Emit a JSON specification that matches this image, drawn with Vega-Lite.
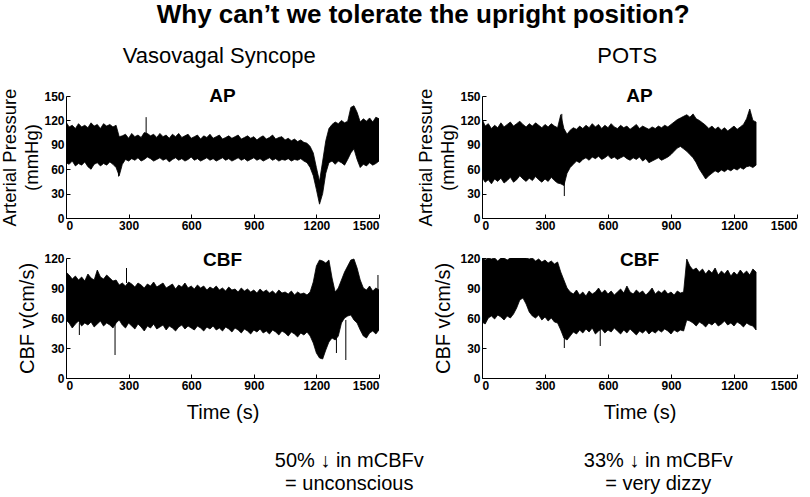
{
  "$schema": "https://vega.github.io/schema/vega-lite/v6.json",
  "padding": {"left": 0, "right": 5, "top": 2, "bottom": 0},
  "background": "white",
  "title": {"text": "Why can’t we tolerate the upright position?", "font": "Liberation Sans", "fontSize": 26, "fontWeight": "bold", "color": "black", "anchor": "middle", "dx": 24, "offset": 17},
  "datasets": {
    "vvsAP": [
      {"t":0,"lo":68,"hi":118},{"t":15,"lo":66,"hi":112},{"t":30,"lo":70,"hi":114},{"t":45,"lo":64,"hi":110},{"t":60,"lo":67,"hi":116},{"t":75,"lo":65,"hi":112},{"t":90,"lo":69,"hi":114},{"t":105,"lo":63,"hi":111},{"t":120,"lo":60,"hi":117},{"t":135,"lo":66,"hi":113},{"t":150,"lo":68,"hi":115},{"t":165,"lo":64,"hi":110},{"t":180,"lo":67,"hi":116},{"t":195,"lo":65,"hi":113},{"t":210,"lo":69,"hi":115},{"t":225,"lo":66,"hi":112},{"t":240,"lo":62,"hi":114},{"t":255,"lo":52,"hi":100},{"t":270,"lo":66,"hi":101},{"t":285,"lo":72,"hi":103},{"t":300,"lo":70,"hi":98},{"t":315,"lo":73,"hi":104},{"t":330,"lo":71,"hi":100},{"t":345,"lo":74,"hi":102},{"t":360,"lo":70,"hi":99},{"t":375,"lo":72,"hi":105},{"t":390,"lo":75,"hi":104},{"t":405,"lo":73,"hi":101},{"t":420,"lo":70,"hi":103},{"t":435,"lo":72,"hi":99},{"t":450,"lo":74,"hi":104},{"t":465,"lo":71,"hi":100},{"t":480,"lo":73,"hi":102},{"t":495,"lo":69,"hi":98},{"t":510,"lo":72,"hi":103},{"t":525,"lo":74,"hi":100},{"t":540,"lo":71,"hi":104},{"t":555,"lo":73,"hi":99},{"t":570,"lo":70,"hi":101},{"t":585,"lo":72,"hi":103},{"t":600,"lo":75,"hi":98},{"t":615,"lo":71,"hi":100},{"t":630,"lo":73,"hi":102},{"t":645,"lo":70,"hi":97},{"t":660,"lo":72,"hi":101},{"t":675,"lo":74,"hi":99},{"t":690,"lo":71,"hi":103},{"t":705,"lo":73,"hi":98},{"t":720,"lo":70,"hi":100},{"t":735,"lo":72,"hi":102},{"t":750,"lo":74,"hi":97},{"t":765,"lo":71,"hi":99},{"t":780,"lo":73,"hi":101},{"t":795,"lo":70,"hi":98},{"t":810,"lo":72,"hi":100},{"t":825,"lo":74,"hi":102},{"t":840,"lo":71,"hi":97},{"t":855,"lo":73,"hi":99},{"t":870,"lo":70,"hi":101},{"t":885,"lo":72,"hi":98},{"t":900,"lo":74,"hi":100},{"t":915,"lo":71,"hi":96},{"t":930,"lo":73,"hi":99},{"t":945,"lo":70,"hi":101},{"t":960,"lo":72,"hi":97},{"t":975,"lo":74,"hi":99},{"t":990,"lo":71,"hi":102},{"t":1005,"lo":73,"hi":97},{"t":1020,"lo":70,"hi":99},{"t":1035,"lo":72,"hi":100},{"t":1050,"lo":71,"hi":96},{"t":1065,"lo":73,"hi":98},{"t":1080,"lo":70,"hi":95},{"t":1095,"lo":72,"hi":97},{"t":1110,"lo":71,"hi":94},{"t":1125,"lo":73,"hi":96},{"t":1140,"lo":70,"hi":93},{"t":1155,"lo":68,"hi":92},{"t":1170,"lo":62,"hi":88},{"t":1185,"lo":52,"hi":80},{"t":1200,"lo":35,"hi":62},{"t":1215,"lo":17,"hi":45},{"t":1230,"lo":30,"hi":70},{"t":1245,"lo":55,"hi":95},{"t":1260,"lo":68,"hi":110},{"t":1275,"lo":70,"hi":115},{"t":1290,"lo":66,"hi":118},{"t":1305,"lo":70,"hi":116},{"t":1320,"lo":68,"hi":120},{"t":1335,"lo":65,"hi":117},{"t":1350,"lo":72,"hi":119},{"t":1365,"lo":80,"hi":136},{"t":1380,"lo":85,"hi":138},{"t":1395,"lo":72,"hi":130},{"t":1410,"lo":62,"hi":118},{"t":1425,"lo":66,"hi":122},{"t":1440,"lo":64,"hi":119},{"t":1455,"lo":68,"hi":123},{"t":1470,"lo":65,"hi":118},{"t":1485,"lo":67,"hi":124},{"t":1500,"lo":70,"hi":122}
    ],
    "vvsAPspk": [
      {"t":384,"lo":100,"hi":124},{"t":252,"lo":51,"hi":70},{"t":120,"lo":60,"hi":70}
    ],
    "vvsCBF": [
      {"t":0,"lo":58,"hi":106},{"t":15,"lo":55,"hi":103},{"t":30,"lo":50,"hi":99},{"t":45,"lo":54,"hi":102},{"t":60,"lo":57,"hi":98},{"t":75,"lo":52,"hi":101},{"t":90,"lo":55,"hi":97},{"t":105,"lo":53,"hi":104},{"t":120,"lo":56,"hi":100},{"t":135,"lo":51,"hi":98},{"t":150,"lo":54,"hi":108},{"t":165,"lo":57,"hi":101},{"t":180,"lo":52,"hi":99},{"t":195,"lo":55,"hi":103},{"t":210,"lo":53,"hi":100},{"t":225,"lo":50,"hi":97},{"t":240,"lo":55,"hi":98},{"t":255,"lo":58,"hi":93},{"t":270,"lo":53,"hi":95},{"t":285,"lo":50,"hi":92},{"t":300,"lo":55,"hi":96},{"t":315,"lo":52,"hi":94},{"t":330,"lo":49,"hi":91},{"t":345,"lo":54,"hi":95},{"t":360,"lo":51,"hi":93},{"t":375,"lo":47,"hi":90},{"t":390,"lo":52,"hi":94},{"t":405,"lo":50,"hi":92},{"t":420,"lo":54,"hi":96},{"t":435,"lo":49,"hi":91},{"t":450,"lo":51,"hi":93},{"t":465,"lo":53,"hi":95},{"t":480,"lo":48,"hi":90},{"t":495,"lo":52,"hi":92},{"t":510,"lo":50,"hi":94},{"t":525,"lo":47,"hi":89},{"t":540,"lo":51,"hi":93},{"t":555,"lo":53,"hi":91},{"t":570,"lo":49,"hi":95},{"t":585,"lo":52,"hi":90},{"t":600,"lo":50,"hi":92},{"t":615,"lo":48,"hi":89},{"t":630,"lo":52,"hi":93},{"t":645,"lo":50,"hi":90},{"t":660,"lo":47,"hi":92},{"t":675,"lo":51,"hi":88},{"t":690,"lo":49,"hi":91},{"t":705,"lo":52,"hi":89},{"t":720,"lo":48,"hi":92},{"t":735,"lo":50,"hi":88},{"t":750,"lo":47,"hi":90},{"t":765,"lo":51,"hi":87},{"t":780,"lo":49,"hi":91},{"t":795,"lo":46,"hi":88},{"t":810,"lo":50,"hi":89},{"t":825,"lo":48,"hi":86},{"t":840,"lo":45,"hi":90},{"t":855,"lo":49,"hi":87},{"t":870,"lo":47,"hi":89},{"t":885,"lo":44,"hi":86},{"t":900,"lo":48,"hi":88},{"t":915,"lo":46,"hi":85},{"t":930,"lo":49,"hi":89},{"t":945,"lo":45,"hi":86},{"t":960,"lo":47,"hi":88},{"t":975,"lo":44,"hi":85},{"t":990,"lo":48,"hi":87},{"t":1005,"lo":46,"hi":84},{"t":1020,"lo":43,"hi":88},{"t":1035,"lo":47,"hi":85},{"t":1050,"lo":45,"hi":86},{"t":1065,"lo":42,"hi":84},{"t":1080,"lo":46,"hi":87},{"t":1095,"lo":44,"hi":83},{"t":1110,"lo":41,"hi":86},{"t":1125,"lo":45,"hi":84},{"t":1140,"lo":43,"hi":85},{"t":1155,"lo":46,"hi":83},{"t":1170,"lo":42,"hi":86},{"t":1185,"lo":35,"hi":96},{"t":1200,"lo":25,"hi":112},{"t":1215,"lo":20,"hi":118},{"t":1230,"lo":19,"hi":117},{"t":1245,"lo":28,"hi":115},{"t":1260,"lo":36,"hi":118},{"t":1275,"lo":40,"hi":100},{"t":1290,"lo":38,"hi":86},{"t":1305,"lo":42,"hi":90},{"t":1320,"lo":55,"hi":98},{"t":1335,"lo":60,"hi":106},{"t":1350,"lo":62,"hi":112},{"t":1365,"lo":63,"hi":118},{"t":1380,"lo":58,"hi":119},{"t":1395,"lo":55,"hi":110},{"t":1410,"lo":48,"hi":98},{"t":1425,"lo":42,"hi":90},{"t":1440,"lo":40,"hi":88},{"t":1455,"lo":45,"hi":92},{"t":1470,"lo":47,"hi":87},{"t":1485,"lo":44,"hi":90},{"t":1500,"lo":48,"hi":88}
    ],
    "vvsCBFspk": [
      {"t":64,"lo":43,"hi":55},{"t":235,"lo":23,"hi":55},{"t":1296,"lo":25,"hi":40},{"t":1341,"lo":18,"hi":58},{"t":1495,"lo":88,"hi":103},{"t":290,"lo":95,"hi":110}
    ],
    "potsAP": [
      {"t":0,"lo":50,"hi":122},{"t":15,"lo":44,"hi":113},{"t":30,"lo":47,"hi":116},{"t":45,"lo":42,"hi":110},{"t":60,"lo":48,"hi":114},{"t":75,"lo":45,"hi":111},{"t":90,"lo":49,"hi":117},{"t":105,"lo":43,"hi":112},{"t":120,"lo":46,"hi":115},{"t":135,"lo":50,"hi":118},{"t":150,"lo":44,"hi":113},{"t":165,"lo":47,"hi":116},{"t":180,"lo":52,"hi":119},{"t":195,"lo":48,"hi":115},{"t":210,"lo":45,"hi":112},{"t":225,"lo":49,"hi":116},{"t":240,"lo":46,"hi":113},{"t":255,"lo":51,"hi":117},{"t":270,"lo":47,"hi":114},{"t":285,"lo":44,"hi":111},{"t":300,"lo":48,"hi":115},{"t":315,"lo":45,"hi":112},{"t":330,"lo":50,"hi":116},{"t":345,"lo":46,"hi":113},{"t":360,"lo":43,"hi":111},{"t":375,"lo":42,"hi":127},{"t":390,"lo":40,"hi":110},{"t":405,"lo":55,"hi":103},{"t":420,"lo":62,"hi":108},{"t":435,"lo":66,"hi":111},{"t":450,"lo":70,"hi":109},{"t":465,"lo":68,"hi":113},{"t":480,"lo":72,"hi":110},{"t":495,"lo":74,"hi":114},{"t":510,"lo":71,"hi":111},{"t":525,"lo":75,"hi":116},{"t":540,"lo":73,"hi":112},{"t":555,"lo":76,"hi":115},{"t":570,"lo":72,"hi":110},{"t":585,"lo":74,"hi":114},{"t":600,"lo":77,"hi":111},{"t":615,"lo":73,"hi":116},{"t":630,"lo":75,"hi":112},{"t":645,"lo":72,"hi":110},{"t":660,"lo":74,"hi":114},{"t":675,"lo":76,"hi":111},{"t":690,"lo":73,"hi":113},{"t":705,"lo":71,"hi":109},{"t":720,"lo":74,"hi":112},{"t":735,"lo":72,"hi":115},{"t":750,"lo":75,"hi":110},{"t":765,"lo":70,"hi":113},{"t":780,"lo":73,"hi":111},{"t":795,"lo":68,"hi":109},{"t":810,"lo":70,"hi":112},{"t":825,"lo":72,"hi":110},{"t":840,"lo":74,"hi":113},{"t":855,"lo":71,"hi":111},{"t":870,"lo":73,"hi":114},{"t":885,"lo":75,"hi":112},{"t":900,"lo":78,"hi":115},{"t":915,"lo":82,"hi":118},{"t":930,"lo":86,"hi":121},{"t":945,"lo":88,"hi":123},{"t":960,"lo":85,"hi":125},{"t":975,"lo":82,"hi":127},{"t":990,"lo":78,"hi":124},{"t":1005,"lo":74,"hi":128},{"t":1020,"lo":68,"hi":122},{"t":1035,"lo":60,"hi":120},{"t":1050,"lo":54,"hi":117},{"t":1065,"lo":48,"hi":114},{"t":1080,"lo":52,"hi":110},{"t":1095,"lo":55,"hi":113},{"t":1110,"lo":58,"hi":109},{"t":1125,"lo":56,"hi":112},{"t":1140,"lo":59,"hi":108},{"t":1155,"lo":57,"hi":111},{"t":1170,"lo":60,"hi":107},{"t":1185,"lo":58,"hi":110},{"t":1200,"lo":61,"hi":113},{"t":1215,"lo":59,"hi":109},{"t":1230,"lo":62,"hi":112},{"t":1245,"lo":60,"hi":115},{"t":1260,"lo":63,"hi":122},{"t":1275,"lo":64,"hi":134},{"t":1290,"lo":62,"hi":120},{"t":1305,"lo":65,"hi":118}
    ],
    "potsAPspk": [
      {"t":392,"lo":27,"hi":60},{"t":380,"lo":60,"hi":128}
    ],
    "potsCBF": [
      {"t":0,"lo":56,"hi":120},{"t":15,"lo":54,"hi":118},{"t":30,"lo":60,"hi":120},{"t":45,"lo":62,"hi":119},{"t":60,"lo":59,"hi":120},{"t":75,"lo":63,"hi":117},{"t":90,"lo":61,"hi":120},{"t":105,"lo":58,"hi":120},{"t":120,"lo":62,"hi":118},{"t":135,"lo":60,"hi":120},{"t":150,"lo":64,"hi":120},{"t":165,"lo":70,"hi":120},{"t":180,"lo":78,"hi":120},{"t":195,"lo":80,"hi":120},{"t":210,"lo":74,"hi":120},{"t":225,"lo":66,"hi":119},{"t":240,"lo":62,"hi":120},{"t":255,"lo":60,"hi":117},{"t":270,"lo":63,"hi":119},{"t":285,"lo":58,"hi":116},{"t":300,"lo":61,"hi":118},{"t":315,"lo":57,"hi":115},{"t":330,"lo":60,"hi":117},{"t":345,"lo":56,"hi":114},{"t":360,"lo":55,"hi":116},{"t":375,"lo":48,"hi":106},{"t":390,"lo":40,"hi":98},{"t":405,"lo":38,"hi":90},{"t":420,"lo":42,"hi":86},{"t":435,"lo":46,"hi":84},{"t":450,"lo":44,"hi":88},{"t":465,"lo":48,"hi":83},{"t":480,"lo":45,"hi":86},{"t":495,"lo":49,"hi":82},{"t":510,"lo":46,"hi":87},{"t":525,"lo":50,"hi":84},{"t":540,"lo":44,"hi":86},{"t":555,"lo":47,"hi":90},{"t":570,"lo":49,"hi":85},{"t":585,"lo":45,"hi":88},{"t":600,"lo":48,"hi":84},{"t":615,"lo":46,"hi":87},{"t":630,"lo":50,"hi":83},{"t":645,"lo":47,"hi":86},{"t":660,"lo":44,"hi":89},{"t":675,"lo":48,"hi":85},{"t":690,"lo":45,"hi":92},{"t":705,"lo":49,"hi":86},{"t":720,"lo":46,"hi":84},{"t":735,"lo":43,"hi":88},{"t":750,"lo":47,"hi":85},{"t":765,"lo":45,"hi":87},{"t":780,"lo":48,"hi":83},{"t":795,"lo":44,"hi":86},{"t":810,"lo":47,"hi":90},{"t":825,"lo":45,"hi":84},{"t":840,"lo":48,"hi":87},{"t":855,"lo":46,"hi":85},{"t":870,"lo":49,"hi":88},{"t":885,"lo":47,"hi":84},{"t":900,"lo":44,"hi":86},{"t":915,"lo":48,"hi":83},{"t":930,"lo":46,"hi":87},{"t":945,"lo":48,"hi":85},{"t":960,"lo":47,"hi":86},{"t":975,"lo":58,"hi":119},{"t":990,"lo":57,"hi":112},{"t":1005,"lo":55,"hi":108},{"t":1020,"lo":52,"hi":110},{"t":1035,"lo":56,"hi":106},{"t":1050,"lo":54,"hi":109},{"t":1065,"lo":51,"hi":104},{"t":1080,"lo":55,"hi":108},{"t":1095,"lo":53,"hi":105},{"t":1110,"lo":56,"hi":110},{"t":1125,"lo":52,"hi":103},{"t":1140,"lo":54,"hi":107},{"t":1155,"lo":57,"hi":104},{"t":1170,"lo":53,"hi":108},{"t":1185,"lo":55,"hi":102},{"t":1200,"lo":52,"hi":106},{"t":1215,"lo":56,"hi":103},{"t":1230,"lo":54,"hi":108},{"t":1245,"lo":51,"hi":104},{"t":1260,"lo":55,"hi":107},{"t":1275,"lo":53,"hi":103},{"t":1290,"lo":52,"hi":109},{"t":1305,"lo":48,"hi":106}
    ],
    "potsCBFspk": [
      {"t":392,"lo":30,"hi":45},{"t":563,"lo":32,"hi":48}
    ]
  },
  "config": {
    "view": {"stroke": null},
    "axis": {"grid": false, "domainColor": "black", "tickColor": "black", "labelColor": "black", "titleColor": "black", "labelFont": "Liberation Sans", "labelFontWeight": "bold", "labelFontSize": 12, "titleFont": "Liberation Sans", "titleFontWeight": "normal", "titleFontSize": 18.5, "tickSize": -4, "labelPadding": 6, "domainWidth": 1, "tickWidth": 1, "labelOverlap": false, "format": "d"},
    "title": {"font": "Liberation Sans", "color": "black"}
  },
  "spacing": -8,
  "hconcat": [
    {
      "title": {"text": ["50% ↓ in mCBFv", "= unconscious"], "orient": "bottom", "anchor": "middle", "dx": 159, "fontSize": 20, "fontWeight": "normal", "lineHeight": 23, "offset": 29},
      "vconcat": [
        {
          "title": {"text": "Vasovagal Syncope", "anchor": "middle", "dx": 29, "fontSize": 22, "fontWeight": "normal", "offset": 19},
          "spacing": 20,
          "vconcat": [
            {
              "width": 313, "height": 122,
              "title": {"text": "AP", "fontSize": 19, "fontWeight": "bold", "anchor": "middle", "offset": -18},
              "layer": [
                {"data": {"name": "vvsAP"}, "mark": {"type": "area", "color": "black", "stroke": "black", "strokeWidth": 0.8, "clip": true},
                 "encoding": {
                   "x": {"field": "t", "type": "quantitative", "scale": {"domain": [0, 1500], "nice": false}, "axis": {"values": [0, 300, 600, 900, 1200, 1500], "tickCount": 12, "title": null}},
                   "y": {"field": "hi", "type": "quantitative", "scale": {"domain": [0, 150], "nice": false}, "axis": {"values": [0, 30, 60, 90, 120, 150], "tickCount": 12, "labelFlush": false, "title": ["Arterial Pressure", "(mmHg)"], "titlePadding": 2, "titleLineHeight": 22}},
                   "y2": {"field": "lo"}}},
                {"data": {"name": "vvsAPspk"}, "mark": {"type": "rule", "color": "black", "strokeWidth": 1, "clip": true},
                 "encoding": {"x": {"field": "t", "type": "quantitative"}, "y": {"field": "hi", "type": "quantitative"}, "y2": {"field": "lo"}}}
              ]
            },
            {
              "width": 313, "height": 120,
              "title": {"text": "CBF", "fontSize": 19, "fontWeight": "bold", "anchor": "middle", "offset": -18},
              "layer": [
                {"data": {"name": "vvsCBF"}, "mark": {"type": "area", "color": "black", "stroke": "black", "strokeWidth": 0.8, "clip": true},
                 "encoding": {
                   "x": {"field": "t", "type": "quantitative", "scale": {"domain": [0, 1500], "nice": false}, "axis": {"values": [0, 300, 600, 900, 1200, 1500], "tickCount": 12, "title": "Time (s)", "titlePadding": 11, "titleFontSize": 20}},
                   "y": {"field": "hi", "type": "quantitative", "scale": {"domain": [0, 120], "nice": false}, "axis": {"values": [0, 30, 60, 90, 120], "tickCount": 12, "labelFlush": false, "title": "CBF v(cm/s)", "titlePadding": 6, "titleFontSize": 20}},
                   "y2": {"field": "lo"}}},
                {"data": {"name": "vvsCBFspk"}, "mark": {"type": "rule", "color": "black", "strokeWidth": 1, "clip": true},
                 "encoding": {"x": {"field": "t", "type": "quantitative"}, "y": {"field": "hi", "type": "quantitative"}, "y2": {"field": "lo"}}}
              ]
            }
          ]
        }
      ]
    },
    {
      "title": {"text": ["33% ↓ in mCBFv", "= very dizzy"], "orient": "bottom", "anchor": "middle", "dx": 51, "fontSize": 20, "fontWeight": "normal", "lineHeight": 23, "offset": 29},
      "vconcat": [
        {
          "title": {"text": "POTS", "anchor": "middle", "dx": 20, "fontSize": 22, "fontWeight": "normal", "offset": 19},
          "spacing": 20,
          "vconcat": [
            {
              "width": 315, "height": 122,
              "title": {"text": "AP", "fontSize": 19, "fontWeight": "bold", "anchor": "middle", "offset": -18},
              "layer": [
                {"data": {"name": "potsAP"}, "mark": {"type": "area", "color": "black", "stroke": "black", "strokeWidth": 0.8, "clip": true},
                 "encoding": {
                   "x": {"field": "t", "type": "quantitative", "scale": {"domain": [0, 1500], "nice": false}, "axis": {"values": [0, 300, 600, 900, 1200, 1500], "tickCount": 12, "title": null}},
                   "y": {"field": "hi", "type": "quantitative", "scale": {"domain": [0, 150], "nice": false}, "axis": {"values": [0, 30, 60, 90, 120, 150], "tickCount": 12, "labelFlush": false, "title": ["Arterial Pressure", "(mmHg)"], "titlePadding": 2, "titleLineHeight": 22}},
                   "y2": {"field": "lo"}}},
                {"data": {"name": "potsAPspk"}, "mark": {"type": "rule", "color": "black", "strokeWidth": 1, "clip": true},
                 "encoding": {"x": {"field": "t", "type": "quantitative"}, "y": {"field": "hi", "type": "quantitative"}, "y2": {"field": "lo"}}}
              ]
            },
            {
              "width": 315, "height": 120,
              "title": {"text": "CBF", "fontSize": 19, "fontWeight": "bold", "anchor": "middle", "offset": -18},
              "layer": [
                {"data": {"name": "potsCBF"}, "mark": {"type": "area", "color": "black", "stroke": "black", "strokeWidth": 0.8, "clip": true},
                 "encoding": {
                   "x": {"field": "t", "type": "quantitative", "scale": {"domain": [0, 1500], "nice": false}, "axis": {"values": [0, 300, 600, 900, 1200, 1500], "tickCount": 12, "title": "Time (s)", "titlePadding": 11, "titleFontSize": 20}},
                   "y": {"field": "hi", "type": "quantitative", "scale": {"domain": [0, 120], "nice": false}, "axis": {"values": [0, 30, 60, 90, 120], "tickCount": 12, "labelFlush": false, "title": "CBF v(cm/s)", "titlePadding": 6, "titleFontSize": 20}},
                   "y2": {"field": "lo"}}},
                {"data": {"name": "potsCBFspk"}, "mark": {"type": "rule", "color": "black", "strokeWidth": 1, "clip": true},
                 "encoding": {"x": {"field": "t", "type": "quantitative"}, "y": {"field": "hi", "type": "quantitative"}, "y2": {"field": "lo"}}}
              ]
            }
          ]
        }
      ]
    }
  ]
}
